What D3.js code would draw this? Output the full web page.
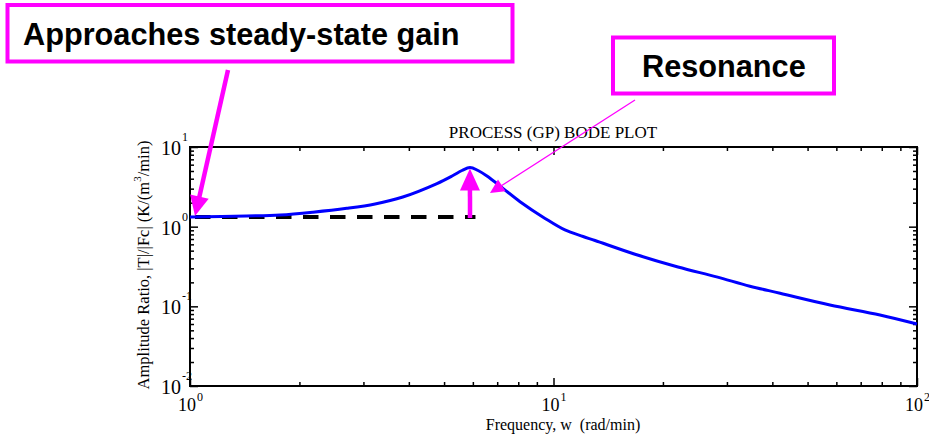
<!DOCTYPE html>
<html><head><meta charset="utf-8">
<script src="https://cdn.jsdelivr.net/npm/d3@7"></script>
<style>body{margin:0;background:#fff}svg{display:block}</style>
</head><body>
<svg id="c" width="929" height="446"></svg>
<script>
// ---- data ----
const freq = [1, 1.43, 1.77, 2.18, 2.70, 3.23, 3.85, 4.78, 5.29, 5.60, 5.89, 6.20, 6.56, 7.26, 8.09, 9.48, 10.75, 12.06, 13.01, 16.76, 22.0, 28.1, 34.7, 42.0, 57.6, 79.1, 100];
const amp  = [1.32, 1.36, 1.40, 1.52, 1.70, 1.93, 2.36, 3.48, 4.39, 5.07, 5.53, 5.07, 4.33, 3.03, 2.06, 1.27, 0.909, 0.753, 0.671, 0.451, 0.312, 0.234, 0.179, 0.146, 0.104, 0.078, 0.060];
const steadyGain = 1.32;
const steadyEndFreq = 6.1;
const peakFreq = 5.89, peakAmp = 5.53;
const xTickExp = [0, 1, 2];
const yTickExp = [1, 0, -1, -2];
const title = "PROCESS (GP) BODE PLOT";
const xLabel = "Frequency, w  (rad/min)";
const annot1 = "Approaches steady-state gain";
const annot2 = "Resonance";

const svg = d3.select("#c");
const L=190, R=917, T=147, B=386;
const x = d3.scaleLog().domain([1,100]).range([L,R]);
const y = d3.scaleLog().domain([0.01,10]).range([B,T]);

const majorX = [1,10,100], minorX=[];
[1,10].forEach(d=>{for(let k=2;k<10;k++) minorX.push(d*k);});
const majorY = [0.01,0.1,1,10], minorY=[];
[0.01,0.1,1].forEach(d=>{for(let k=2;k<10;k++) minorY.push(d*k);});

function axisG(gen, tx, ty){ const g=svg.append("g").attr("transform",`translate(${tx},${ty})`).call(gen); g.select(".domain").remove(); g.selectAll("line").attr("stroke","#000").attr("stroke-width",1.5); g.selectAll("text").remove(); return g;}
// inward ticks
axisG(d3.axisBottom(x).tickValues(majorX).tickSizeInner(-8).tickSizeOuter(0),0,B);
axisG(d3.axisBottom(x).tickValues(minorX).tickSizeInner(-4).tickSizeOuter(0),0,B);
axisG(d3.axisTop(x).tickValues(majorX).tickSizeInner(-8).tickSizeOuter(0),0,T);
axisG(d3.axisTop(x).tickValues(minorX).tickSizeInner(-4).tickSizeOuter(0),0,T);
axisG(d3.axisLeft(y).tickValues(majorY).tickSizeInner(-8).tickSizeOuter(0),L,0);
axisG(d3.axisLeft(y).tickValues(minorY).tickSizeInner(-4).tickSizeOuter(0),L,0);
axisG(d3.axisRight(y).tickValues(majorY).tickSizeInner(-8).tickSizeOuter(0),R,0);
axisG(d3.axisRight(y).tickValues(minorY).tickSizeInner(-4).tickSizeOuter(0),R,0);

svg.append("rect").attr("x",L).attr("y",T).attr("width",R-L).attr("height",B-T)
  .attr("fill","none").attr("stroke","#000").attr("stroke-width",2);

const serif = "'Liberation Serif','Times New Roman',serif";
// y tick labels
yTickExp.forEach(e=>{
  const yy = y(Math.pow(10,e));
  svg.append("text").attr("x",L-9).attr("y",yy+8).attr("text-anchor","end")
    .attr("font-family",serif).attr("font-size",20).text("10");
  svg.append("text").attr("x",L-8).attr("y",yy-6).attr("text-anchor","start")
    .attr("font-family",serif).attr("font-size",12).text(String(e));
});
// x tick labels
xTickExp.forEach(e=>{
  const xx = x(Math.pow(10,e));
  svg.append("text").attr("x",xx+6).attr("y",B+25).attr("text-anchor","end")
    .attr("font-family",serif).attr("font-size",18).text("10");
  svg.append("text").attr("x",xx+7).attr("y",B+15).attr("text-anchor","start")
    .attr("font-family",serif).attr("font-size",12).text(String(e));
});
svg.append("text").attr("x",563).attr("y",430).attr("text-anchor","middle").style("white-space","pre")
  .attr("font-family",serif).attr("font-size",16).text(xLabel);
svg.append("text").attr("x",553).attr("y",138).attr("text-anchor","middle")
  .attr("font-family",serif).attr("font-size",17).text(title);
const yl = svg.append("text").attr("transform","translate(149,265) rotate(-90)")
  .attr("text-anchor","middle").attr("font-family",serif).attr("font-size",16.5);
yl.append("tspan").text("Amplitude Ratio, |T|/|Fc| (K/(m");
yl.append("tspan").attr("font-size",11).attr("dy",-8).text("3");
yl.append("tspan").attr("dy",8).text("/min)");

// dashed steady-state line
svg.append("line").attr("x1",x(1)+5).attr("x2",x(steadyEndFreq)).attr("y1",y(steadyGain)).attr("y2",y(steadyGain))
  .attr("stroke","#000").attr("stroke-width",4).attr("stroke-dasharray","15.5,11.5");

// curve
const pts = freq.map((f,i)=>[x(f),y(amp[i])]);
svg.append("path").attr("d",d3.line().curve(d3.curveCatmullRom.alpha(0.5))(pts))
  .attr("fill","none").attr("stroke","#0000ff").attr("stroke-width",3).attr("stroke-linejoin","round");

// annotations
const mag = "#ff00ff";
function arrow(x0,y0,x1,y1,w,hl,hw){
  const dx=x1-x0, dy=y1-y0, len=Math.hypot(dx,dy), ux=dx/len, uy=dy/len;
  const bx=x1-ux*hl, by=y1-uy*hl;
  svg.append("line").attr("x1",x0).attr("y1",y0).attr("x2",bx+ux*1).attr("y2",by+uy*1)
    .attr("stroke",mag).attr("stroke-width",w);
  svg.append("path").attr("d",`M${x1},${y1}L${bx-uy*hw/2},${by+ux*hw/2}L${bx+uy*hw/2},${by-ux*hw/2}Z`).attr("fill",mag);
}
arrow(228,70, x(1)+5, y(steadyGain)-1, 4.5, 20, 19);
arrow(470, y(steadyGain)+1, x(peakFreq), y(peakAmp)+1, 4.5, 22, 20);
arrow(635,100, 490,193, 1.3, 14, 14);

svg.append("rect").attr("x",7.5).attr("y",5).attr("width",505).attr("height",56.5)
  .attr("fill","none").attr("stroke",mag).attr("stroke-width",4);
svg.append("text").attr("x",23).attr("y",45).attr("font-family","'Liberation Sans',Arial,sans-serif")
  .attr("font-weight","bold").attr("font-size",30.7).text(annot1);
svg.append("rect").attr("x",613).attr("y",37.5).attr("width",221).attr("height",56)
  .attr("fill","none").attr("stroke",mag).attr("stroke-width",4);
svg.append("text").attr("x",642).attr("y",77.3).attr("font-family","'Liberation Sans',Arial,sans-serif")
  .attr("font-weight","bold").attr("font-size",30.7).text(annot2);
</script>
</body></html>
